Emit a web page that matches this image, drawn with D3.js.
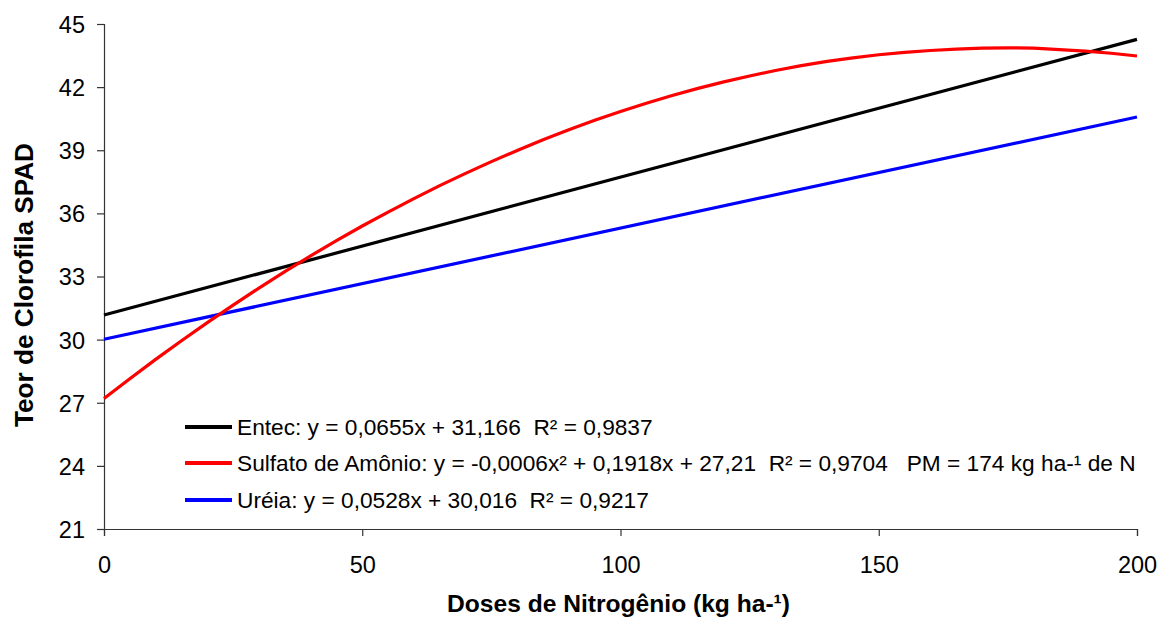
<!DOCTYPE html>
<html>
<head>
<meta charset="utf-8">
<script src="https://cdn.jsdelivr.net/npm/d3@7"></script>
<style>
  html, body { margin: 0; padding: 0; background: #fff; }
  svg { display: block; font-family: Arial, "Liberation Sans", sans-serif; }
</style>
</head>
<body>
<svg id="chart" width="1169" height="639"></svg>
<script>
// ---- Data ----
const xTicks = [0, 50, 100, 150, 200];
const yTicks = [21, 24, 27, 30, 33, 36, 39, 42, 45];

// Straight regression lines (endpoints)
const entecX = [0, 200];
const entecY = [31.17, 44.27];
const ureiaX = [0, 200];
const ureiaY = [30.02, 40.58];

// Sulfato de Amônio curve
const sulfatoX = [0, 5, 10, 15, 20, 25, 30, 35, 40, 45, 50, 55, 60, 65, 70, 75, 80, 85, 90, 95, 100,
                  105, 110, 115, 120, 125, 130, 135, 140, 145, 150, 155, 160, 165, 170, 175, 180, 185, 190, 195, 200];
const sulfatoY = [27.20, 28.14, 29.06, 29.95, 30.81, 31.64, 32.45, 33.23, 33.98, 34.70, 35.40,
                  36.06, 36.70, 37.32, 37.90, 38.46, 38.99, 39.50, 39.97, 40.42, 40.84,
                  41.23, 41.60, 41.94, 42.25, 42.53, 42.79, 43.02, 43.22, 43.39, 43.54,
                  43.65, 43.74, 43.81, 43.85, 43.87, 43.85, 43.78, 43.71, 43.61, 43.48];

const legendLabels = [
  "Entec: y = 0,0655x + 31,166  R² = 0,9837",
  "Sulfato de Amônio: y = -0,0006x² + 0,1918x + 27,21  R² = 0,9704   PM = 174 kg ha-¹ de N",
  "Uréia: y = 0,0528x + 30,016  R² = 0,9217"
];
const seriesColors = ["#000000", "#ff0000", "#0000ff"];

const xTitle = "Doses de Nitrogênio (kg ha-¹)";
const yTitle = "Teor de Clorofila SPAD";

// ---- Layout ----
const svg = d3.select("#chart");
const mLeft = 104, mRight = 1137, mTop = 24, mBottom = 529;

const x = d3.scaleLinear().domain([0, 200]).range([mLeft, mRight]);
const y = d3.scaleLinear().domain([21, 45]).range([mBottom, mTop]);

// Axes
const yAxis = d3.axisLeft(y).tickValues(yTicks).tickSize(7).tickPadding(12).tickFormat(d3.format("d"));
const xAxis = d3.axisBottom(x).tickValues(xTicks).tickSize(7).tickPadding(20).tickFormat(d3.format("d"));

const gy = svg.append("g").attr("transform", `translate(${mLeft},0)`).call(yAxis);
const gx = svg.append("g").attr("transform", `translate(0,${mBottom})`).call(xAxis);
[gx, gy].forEach(g => {
  g.select(".domain").attr("stroke", "#333").attr("stroke-width", 1.2);
  g.selectAll(".tick line").attr("stroke", "#333").attr("stroke-width", 1.2);
  g.selectAll(".tick text").attr("fill", "#000").style("font-size", "23.5px")
    .style("font-family", "Arial, 'Liberation Sans', sans-serif");
});
gy.selectAll(".tick text").attr("dy", "0.36em");

// Lines
const line = d3.line().x(d => x(d[0])).y(d => y(d[1]));
const series = [
  d3.zip(entecX, entecY),
  d3.zip(sulfatoX, sulfatoY),
  d3.zip(ureiaX, ureiaY)
];
const drawOrder = [0, 2, 1];
drawOrder.forEach(i => {
  svg.append("path")
    .datum(series[i])
    .attr("fill", "none")
    .attr("stroke", seriesColors[i])
    .attr("stroke-width", 3.2)
    .attr("stroke-linejoin", "round")
    .attr("d", line);
});

// Legend
const legY = [427, 463, 500];
legendLabels.forEach((t, i) => {
  svg.append("line")
    .attr("x1", 185).attr("x2", 232)
    .attr("y1", legY[i]).attr("y2", legY[i])
    .attr("stroke", seriesColors[i]).attr("stroke-width", 4);
  svg.append("text")
    .attr("x", 237).attr("y", legY[i]).attr("dy", "0.36em")
    .style("font-size", "22.7px")
    .style("white-space", "pre")
    .attr("xml:space", "preserve")
    .text(t);
});

// Axis titles
svg.append("text")
  .attr("x", 447).attr("y", 612)
  .attr("textLength", 343).attr("lengthAdjust", "spacingAndGlyphs")
  .style("font-size", "24px").style("font-weight", "bold")
  .text(xTitle);

svg.append("text")
  .attr("transform", `translate(33,427) rotate(-90)`)
  .attr("textLength", 284).attr("lengthAdjust", "spacingAndGlyphs")
  .style("font-size", "25px").style("font-weight", "bold")
  .text(yTitle);
</script>
</body>
</html>
